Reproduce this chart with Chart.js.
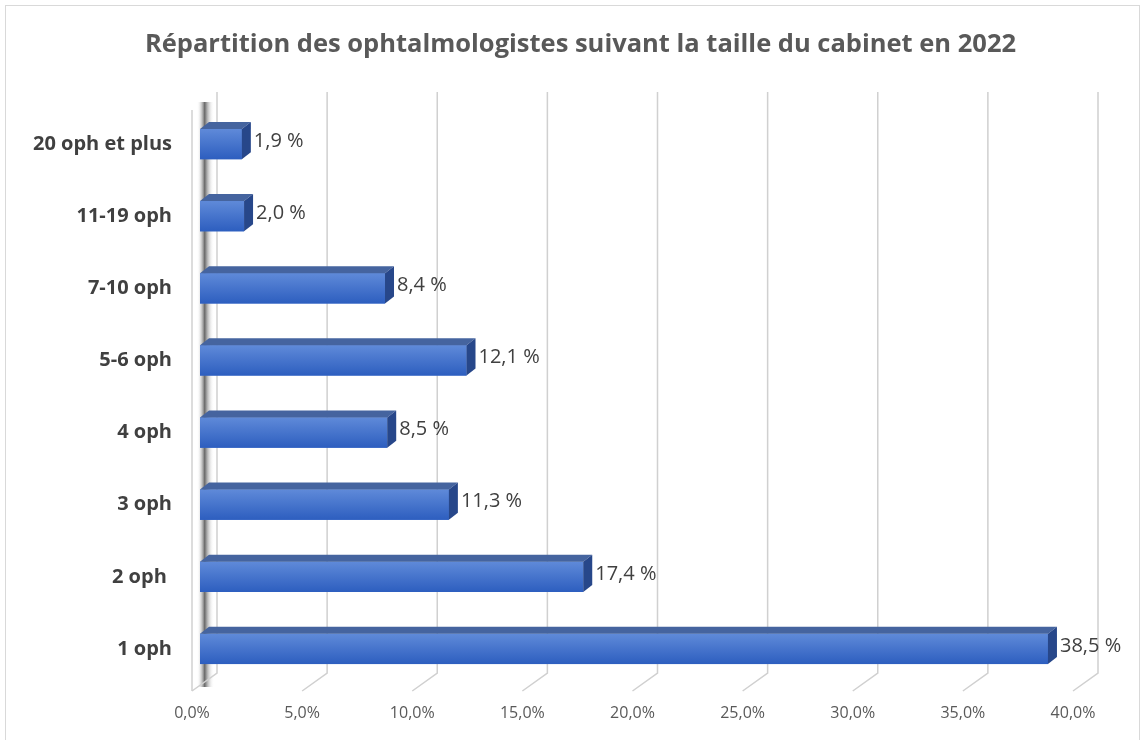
<!DOCTYPE html>
<html>
<head>
<meta charset="utf-8">
<script src="https://cdn.jsdelivr.net/npm/chart.js@4"></script>
<style>
  html, body { margin: 0; padding: 0; background: #fff; }
  #wrap { position: relative; width: 1143px; height: 740px; }
  #frame { position: absolute; left: 5px; top: 5px; right: 3px; bottom: -4px; border: 1px solid #d9d9d9; }
</style>
</head>
<body>
<div id="wrap">
  <div id="frame"></div>
  <canvas id="chart" width="1143" height="740"></canvas>
</div>
<script>
const categories = ["20 oph et plus", "11-19 oph", "7-10 oph", "5-6 oph", "4 oph", "3 oph", "2 oph ", "1 oph"];
const shares = [1.9, 2.0, 8.4, 12.1, 8.5, 11.3, 17.4, 38.5];
const tickValues = [0, 5, 10, 15, 20, 25, 30, 35, 40];
const chartTitle = "Répartition des ophtalmologistes suivant la taille du cabinet en 2022";

const FONT = "'Open Sans', 'Liberation Sans', sans-serif";
const DX = 9, DY = -7; // 3D depth of the bars

function fr(n, d) {
  return n.toFixed(d).replace(".", ",");
}

// title centred on the whole picture
const titlePlugin = {
  id: "titlePlugin",
  afterDraw(chart) {
    const { ctx, width } = chart;
    ctx.save();
    ctx.fillStyle = "#595959";
    ctx.font = "bold 25.5px " + FONT;
    ctx.textAlign = "center";
    ctx.textBaseline = "middle";
    ctx.fillText(chartTitle, width / 2 + 9, 45);
    ctx.restore();
  }
};

// back wall / floor grid lines and the shaded left wall
const wallGrid = {
  id: "wallGrid",
  beforeDatasetsDraw(chart) {
    const { ctx, chartArea, scales } = chart;
    const top = chartArea.top - 16;
    const bottom = chartArea.bottom - 12;
    ctx.save();
    const x0 = scales.x.getPixelForValue(0);
    // left wall: front edge + blurred shadow
    ctx.strokeStyle = "#d0d0d0";
    ctx.lineWidth = 1.5;
    ctx.beginPath();
    ctx.moveTo(x0 - 8, top + 18);
    ctx.lineTo(x0 - 8, bottom + 18);
    ctx.stroke();
    const g = ctx.createLinearGradient(x0 - 3, 0, x0 + 14, 0);
    g.addColorStop(0, "rgba(255,255,255,0)");
    g.addColorStop(0.45, "rgba(40,40,40,0.7)");
    g.addColorStop(1, "rgba(255,255,255,0)");
    ctx.fillStyle = g;
    ctx.fillRect(x0 - 3, top + 10, 17, bottom - top + 4);
    for (const v of tickValues) {
      const x = scales.x.getPixelForValue(v);
      ctx.beginPath();
      ctx.moveTo(x + 17, top);
      ctx.lineTo(x + 17, bottom);
      ctx.lineTo(x - 8, bottom + 18);
      ctx.stroke();
    }
    ctx.restore();
  }
};

// 3D faces of the bars + value labels
const bars3d = {
  id: "bars3d",
  afterDatasetsDraw(chart) {
    const { ctx } = chart;
    const meta = chart.getDatasetMeta(0);
    ctx.save();
    meta.data.forEach((bar, i) => {
      const { x, y, base, height } = bar.getProps(["x", "y", "base", "height"], true);
      const t = y - height / 2, b = y + height / 2;
      // front face gradient
      const g = ctx.createLinearGradient(0, t, 0, b);
      g.addColorStop(0, "#5f8ad9");
      g.addColorStop(1, "#2d5ebf");
      ctx.fillStyle = g;
      ctx.fillRect(base, t, x - base, b - t);
      // top face
      ctx.fillStyle = "#45649f";
      ctx.beginPath();
      ctx.moveTo(base, t);
      ctx.lineTo(base + DX, t + DY);
      ctx.lineTo(x + DX, t + DY);
      ctx.lineTo(x, t);
      ctx.closePath();
      ctx.fill();
      // side face
      ctx.fillStyle = "#27478a";
      ctx.beginPath();
      ctx.moveTo(x, t);
      ctx.lineTo(x + DX, t + DY);
      ctx.lineTo(x + DX, b + DY);
      ctx.lineTo(x, b);
      ctx.closePath();
      ctx.fill();
      // value label
      ctx.fillStyle = "#404040";
      ctx.font = "20px " + FONT;
      ctx.textAlign = "left";
      ctx.textBaseline = "middle";
      ctx.fillText(fr(shares[i], 1) + " %", x + DX + 3, y - 3);
    });
    ctx.restore();
  }
};

new Chart(document.getElementById("chart"), {
  type: "bar",
  data: {
    labels: categories,
    datasets: [{
      data: shares,
      backgroundColor: "#3a6bcc",
      borderWidth: 0,
      categoryPercentage: 0.84,
      barPercentage: 0.5
    }]
  },
  plugins: [wallGrid, bars3d, titlePlugin],
  options: {
    indexAxis: "y",
    responsive: false,
    animation: false,
    layout: { padding: { left: 0, right: 62, top: 108, bottom: 0 } },
    plugins: {
      legend: { display: false },
      tooltip: { enabled: false },
      title: { display: false }
    },
    scales: {
      x: {
        min: 0,
        max: 40,
        afterBuildTicks(scale) {
          scale.ticks = tickValues.map(v => ({ value: v }));
        },
        afterFit(scale) { scale.height = 55; },
        grid: { display: false, drawTicks: false },
        border: { display: false },
        ticks: {
          padding: 19,
          labelOffset: -8,
          color: "#595959",
          font: { family: FONT, size: 16 },
          callback: v => fr(v, 1) + "%"
        }
      },
      y: {
        afterFit(scale) { scale.width = 200; },
        grid: { display: false, drawTicks: false },
        border: { display: false },
        ticks: {
          padding: 28,
          color: "#404040",
          font: { family: FONT, size: 20, weight: "bold" }
        }
      }
    }
  }
});
</script>
</body>
</html>
